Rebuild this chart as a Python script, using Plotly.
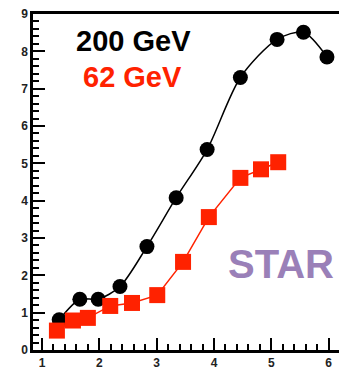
import plotly.graph_objects as go

# 200 GeV (black circles)
x200 = [1.30, 1.66, 1.98, 2.36, 2.83, 3.34, 3.88, 4.46, 5.10, 5.56, 5.97]
y200 = [0.81, 1.36, 1.36, 1.70, 2.77, 4.08, 5.37, 7.30, 8.32, 8.51, 7.85]

# 62 GeV (red squares)
x62 = [1.26, 1.54, 1.80, 2.19, 2.57, 3.01, 3.46, 3.91, 4.46, 4.82, 5.12]
y62 = [0.52, 0.79, 0.86, 1.18, 1.26, 1.47, 2.36, 3.56, 4.61, 4.84, 5.03]

xticks = [1, 2, 3, 4, 5, 6]
yticks = [0, 1, 2, 3, 4, 5, 6, 7, 8, 9]

RED = "#ff2200"
PURPLE = "#9a80b8"
FONT = "Liberation Sans, Arial, sans-serif"

W, H = 339, 370
ml, mr, mt, mb = 33, 0, 14, 12
PW, PH = W - ml - mr, H - mt - mb


def px(x):
    return (x - ml) / PW


def py(y):
    return (H - mb - y) / PH


fig = go.Figure()
fig.add_trace(go.Scatter(
    x=x200, y=y200, mode="lines+markers",
    line=dict(color="black", width=1.5, shape="spline", smoothing=0.8),
    marker=dict(symbol="circle", size=15, color="black"),
    showlegend=False))
fig.add_trace(go.Scatter(
    x=x62, y=y62, mode="lines+markers",
    line=dict(color=RED, width=1.5),
    marker=dict(symbol="square", size=16, color=RED),
    showlegend=False))

for txt, cx, cy, size, col in [("200 GeV", 133, 42, 29, "black"),
                               ("62 GeV", 132, 78, 29, RED),
                               ("STAR", 281, 270, 40, PURPLE)]:
    fig.add_annotation(x=px(cx), y=py(cy), xref="paper", yref="paper",
                       xanchor="center", yanchor="middle",
                       text=f"<b>{txt}</b>", showarrow=False,
                       font=dict(family=FONT, size=size, color=col))

tickfont = dict(family=FONT, size=12, color="#222222")
fig.update_layout(
    width=W, height=H,
    margin=dict(l=ml, r=mr, t=mt, b=mb),
    paper_bgcolor="white", plot_bgcolor="white",
    xaxis=dict(range=[0.843, 6.18], tickvals=xticks, ticktext=[f"<b>{v}</b>" for v in xticks],
               ticks="inside", ticklen=12,
               tickwidth=2, tickcolor="black", showgrid=False, zeroline=False,
               showline=True, linecolor="black", linewidth=2.5, mirror=True,
               tickfont=tickfont,
               minor=dict(dtick=0.2, ticks="inside", ticklen=6, tickwidth=1.5,
                          tickcolor="black", showgrid=False)),
    yaxis=dict(range=[0, 9], tickvals=yticks, ticktext=[f"<b>{v}</b>" for v in yticks],
               ticks="inside", ticklen=12,
               tickwidth=2, tickcolor="black", showgrid=False, zeroline=False,
               showline=True, linecolor="black", linewidth=2.5,
               tickfont=tickfont,
               minor=dict(dtick=0.2, ticks="inside", ticklen=6, tickwidth=1.5,
                          tickcolor="black", showgrid=False)),
)

fig.write_html("out.html")
